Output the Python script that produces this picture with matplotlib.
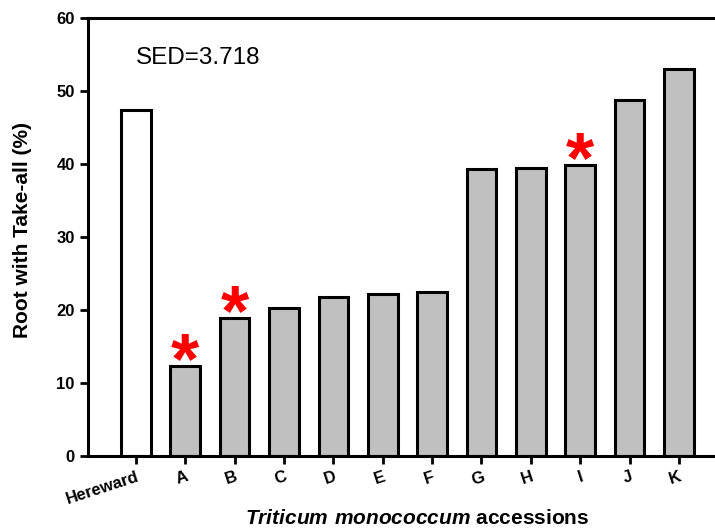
import matplotlib
matplotlib.use("Agg")
import matplotlib.pyplot as plt
import numpy as np

plt.rcParams["font.family"] = ["Liberation Sans", "DejaVu Sans"]
plt.rcParams["mathtext.fontset"] = "custom"
plt.rcParams["mathtext.bfit"] = "Liberation Sans:bold:italic"
plt.rcParams["mathtext.rm"] = "Liberation Sans:bold"

categories = ["Hereward", "A", "B", "C", "D", "E", "F", "G", "H", "I", "J", "K"]
values = [47.4, 12.3, 18.9, 20.3, 21.8, 22.2, 22.4, 39.3, 39.5, 39.8, 48.8, 53.0]
significant = ["A", "B", "I"]
sed_text = "SED=3.718"

fig = plt.figure(figsize=(7.15, 5.29), dpi=100)
ax = fig.add_axes([0.123, 0.138, 0.877, 0.828])

x = np.arange(len(categories))
colors = ["white"] + ["#c0c0c0"] * (len(categories) - 1)
ax.bar(x, values, width=0.6, color=colors, edgecolor="black", linewidth=2.2, zorder=2)

# significance asterisks just above the bar tops
for cat, xi, v in zip(categories, x, values):
    if cat in significant:
        ax.annotate("*", xy=(xi, v), xytext=(0, -12), textcoords="offset points",
                    color="red", fontsize=52, fontweight="bold",
                    ha="center", va="baseline")

ax.text(0, 54.5, sed_text, fontsize=17.5, ha="left", va="center")

ax.set_xlim(-0.97, 11.73)
ax.set_ylim(0, 60)
ax.set_yticks(range(0, 61, 10))
ax.set_xticks(x)
ax.set_xticklabels(categories, rotation=18, ha="right", rotation_mode="anchor",
                   fontsize=12, fontweight="bold")
for lab in ax.get_yticklabels():
    lab.set_fontweight("bold")
    lab.set_fontsize(12)

ax.spines["right"].set_visible(False)
for s in ["left", "bottom", "top"]:
    ax.spines[s].set_linewidth(2.2)
ax.tick_params(axis="both", direction="out", length=6, width=2)

ax.set_ylabel("Root with Take-all (%)", fontsize=15, fontweight="bold")
ax.yaxis.set_label_coords(-0.089, 0.515)
ax.set_xlabel(r"$\mathbfit{Triticum\ monococcum}$ accessions", fontsize=15,
              fontweight="bold")
ax.xaxis.set_label_coords(0.525, -0.12)

fig.savefig("out.png", dpi=100)
